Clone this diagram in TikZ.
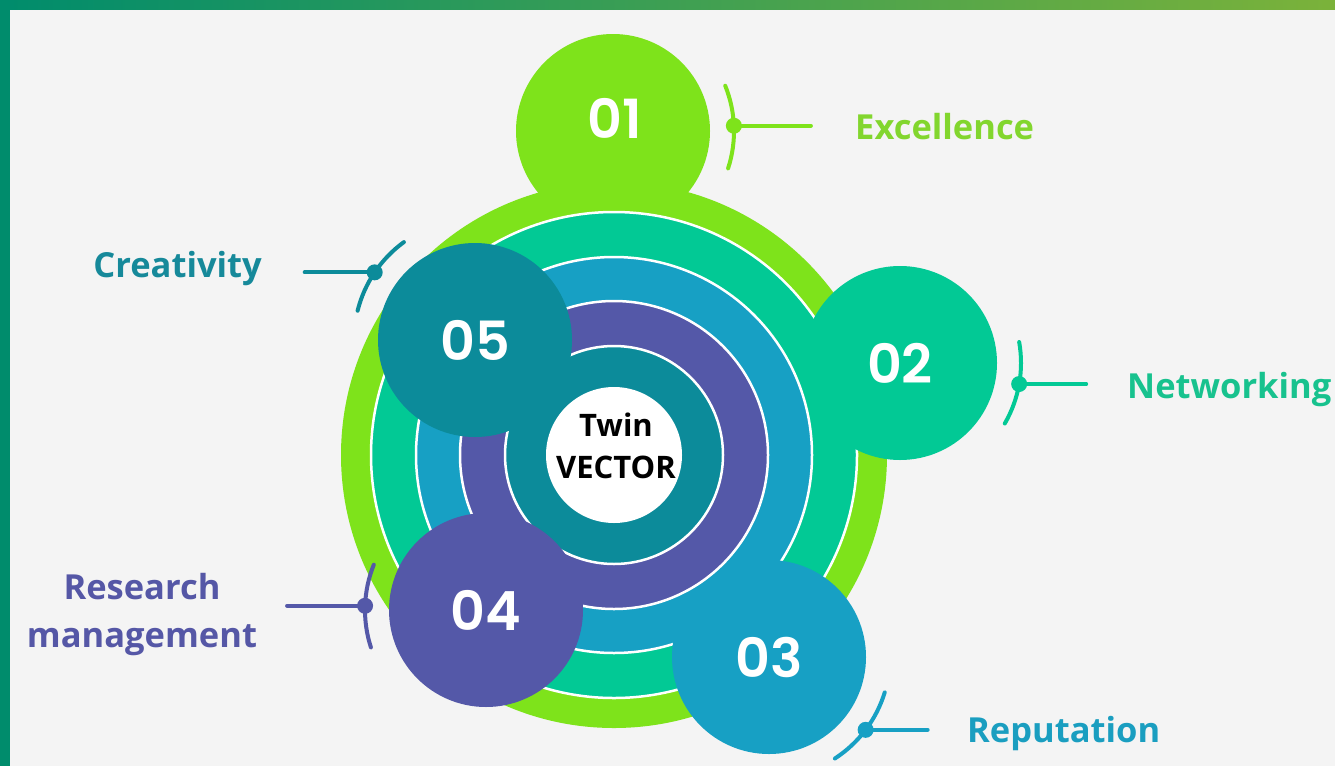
\documentclass[tikz,border=0pt]{standalone}
\usepackage{fontspec}
\setmainfont{Open Sans}
\newfontfamily\numfont{Poppins SemiBold}
\usetikzlibrary{calc}

\definecolor{bgc}{HTML}{F4F4F4}
\definecolor{frameA}{HTML}{008C6C}
\definecolor{frameB}{HTML}{7BB23A}
\definecolor{cg}{HTML}{7EE31B}
\definecolor{ctg}{HTML}{02C995}
\definecolor{cb}{HTML}{17A0C4}
\definecolor{cp}{HTML}{5458A8}
\definecolor{ct}{HTML}{0C8B9A}
\definecolor{lg}{HTML}{82D62E}
\definecolor{ltg}{HTML}{18C28E}
\definecolor{lb}{HTML}{1A9EC0}
\definecolor{lp}{HTML}{5557A6}
\definecolor{lt}{HTML}{16899A}

\tikzset{
  numdisc/.style={circle, inner sep=0pt, minimum size=194pt, text=white,
    font=\numfont\fontsize{54}{54}\selectfont},
  ringline/.style={draw=white, line width=2.5pt},
  callout/.style={line width=4pt, line cap=round},
  labeltext/.style={inner sep=0pt, font=\bfseries\fontsize{34.5}{48}\selectfont},
}

\begin{document}
\begin{tikzpicture}[x=1pt,y=-1pt]
\useasboundingbox (0,0) rectangle (1335,766);
\fill[bgc] (0,0) rectangle (1335,766);
% frame: gradient bar on top, solid bar on the left
\shade[left color=frameA, right color=frameB] (0,0) rectangle (1335,9);
\fill[frameA] (0,0) rectangle (10,766);

% disc 01 sits under the rings
\node[numdisc, fill=cg] (n1) at (613,131) {};
\node[inner sep=0pt, text=white, font=\numfont\fontsize{54}{54}\selectfont] (t1) at (615,118) {01};

% concentric rings
\coordinate (c) at (614,455);
\fill[cg] (c) circle[radius=273];
\filldraw[fill=ctg, ringline] (c) circle[radius=243];
\filldraw[fill=cb, ringline] (c) circle[radius=198];
\filldraw[fill=cp, ringline] (c) circle[radius=154];
\filldraw[fill=ct, ringline] (c) circle[radius=109];
\node[circle, fill=white, minimum size=136pt, inner sep=0pt] (core) at (c) {};
\node[inner sep=0pt, align=center, font=\bfseries\fontsize{31}{42}\selectfont]
  (coretext) at (616,446) {Twin\\VECTOR};

% numbered discs
\node[numdisc, fill=ctg] (n2) at (900,363) {02};
\node[numdisc, fill=cb]  (n3) at (769,657) {03};
\node[numdisc, fill=cp]  (n4) at (486,610) {04};
\node[numdisc, fill=ct]  (n5) at (475,340) {05};

% callout 01
\path (n1.center) ++(-2.5:121) coordinate (d1);
\draw[callout, cg] (n1.center) ++(-22:121) arc[start angle=-22, end angle=18, radius=121];
\fill[cg] (d1) circle[radius=8];
\path (d1) ++(77,0) coordinate (e1);
\draw[callout, cg] (d1) -- (e1);
\node[labeltext, text=lg, anchor=base west] (l1) at (855,139) {Excellence};

% callout 02
\path (n2.center) ++(10:121) coordinate (d2);
\draw[callout, ctg] (n2.center) ++(-10:121) arc[start angle=-10, end angle=30, radius=121];
\fill[ctg] (d2) circle[radius=8];
\path (d2) ++(67,0) coordinate (e2);
\draw[callout, ctg] (d2) -- (e2);
\node[labeltext, text=ltg, anchor=base west] (l2) at (1127,398) {Networking};

% callout 03
\path (n3.center) ++(37:121) coordinate (d3);
\draw[callout, cb] (n3.center) ++(17:121) arc[start angle=17, end angle=57, radius=121];
\fill[cb] (d3) circle[radius=8];
\path (d3) ++(62,0) coordinate (e3);
\draw[callout, cb] (d3) -- (e3);
\node[labeltext, text=lb, anchor=base west] (l3) at (967,742) {Reputation};

% callout 04
\path (n4.center) ++(182:121) coordinate (d4);
\draw[callout, cp] (n4.center) ++(162:121) arc[start angle=162, end angle=202, radius=121];
\fill[cp] (d4) circle[radius=8];
\path (d4) ++(-78,0) coordinate (e4);
\draw[callout, cp] (d4) -- (e4);
\node[labeltext, text=lp, align=center] (l4) at (142,615) {Research\\management};

% callout 05
\path (n5.center) ++(214:121) coordinate (d5);
\draw[callout, ct] (n5.center) ++(194:121) arc[start angle=194, end angle=234, radius=121];
\fill[ct] (d5) circle[radius=8];
\path (d5) ++(-70,0) coordinate (e5);
\draw[callout, ct] (d5) -- (e5);
\node[labeltext, text=lt, anchor=base east] (l5) at (262,277) {Creativity};
\end{tikzpicture}
\end{document}
